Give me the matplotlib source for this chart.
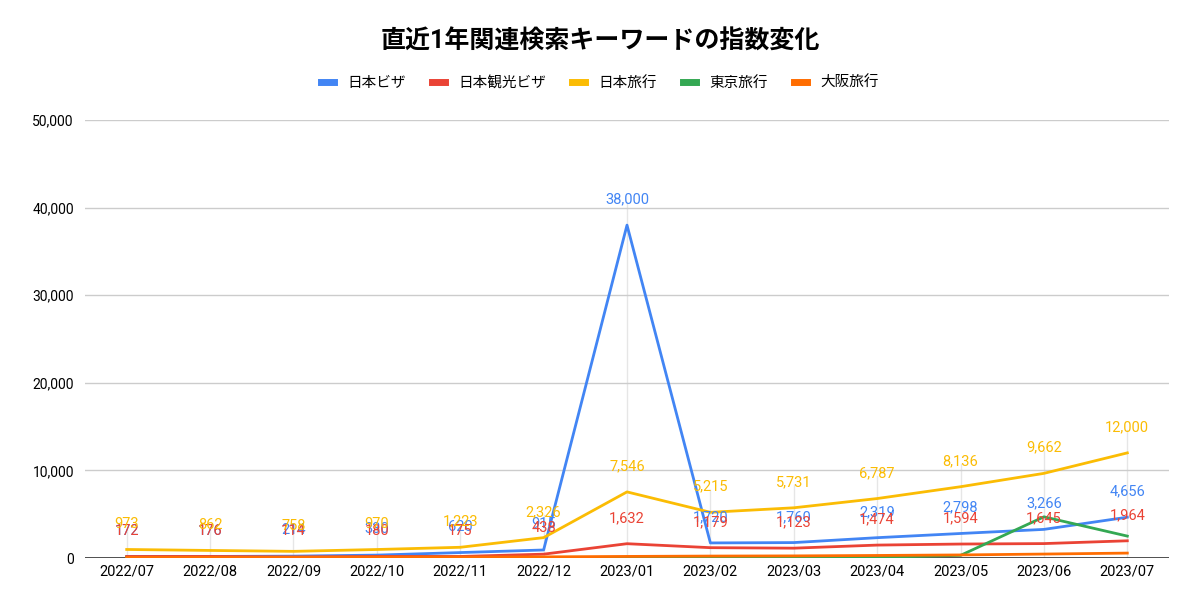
import numpy as np
import matplotlib.pyplot as plt

plt.rcParams['font.family'] = ['Roboto', 'Noto Sans CJK JP', 'DejaVu Sans']

months = ['2022/07', '2022/08', '2022/09', '2022/10', '2022/11', '2022/12', '2023/01',
          '2023/02', '2023/03', '2023/04', '2023/05', '2023/06', '2023/07']
visa = [172, 176, 214, 330, 620, 915, 38000, 1720, 1760, 2319, 2798, 3266, 4656]
sightseeing_visa = [172, 176, 114, 180, 175, 438, 1632, 1179, 1123, 1474, 1594, 1645, 1964]
japan_travel = [973, 862, 758, 970, 1223, 2326, 7546, 5215, 5731, 6787, 8136, 9662, 12000]
tokyo_travel = [30, 30, 30, 40, 40, 50, 60, 60, 70, 80, 300, 4700, 2500]
osaka_travel = [80, 80, 90, 100, 110, 130, 180, 220, 240, 290, 350, 450, 560]

series = [
    ('日本ビザ', visa, '#4285F4', True),
    ('日本観光ビザ', sightseeing_visa, '#EA4335', True),
    ('日本旅行', japan_travel, '#FBBC04', True),
    ('東京旅行', tokyo_travel, '#34A853', False),
    ('大阪旅行', osaka_travel, '#FF6D01', False),
]

fig = plt.figure(figsize=(12, 6.13), dpi=100)
ax = fig.add_axes([85 / 1200, 1 - 558 / 613, (1169 - 85) / 1200, (558 - 120) / 613])

x = np.arange(len(months))

# faint leader lines up to the top label
for i in x:
    top = max(japan_travel[i], visa[i] if i == 6 else 0)
    ax.plot([i, i], [0, top + 2600], color='#e6e6e6', lw=1, zorder=1)

for name, vals, col, labelled in series:
    ax.plot(x, vals, color=col, lw=2, label=name, zorder=3)

# data labels (blue, red, then yellow on top)
for name, vals, col, labelled in series:
    if not labelled:
        continue
    for i, v in zip(x, vals):
        ax.annotate(f'{v:,}', (i, v), xytext=(0, 18.5), textcoords='offset points',
                    ha='center', va='center', color=col, fontsize=10.5, zorder=5)

ax.set_xlim(-0.5, 12.5)
ax.set_ylim(0, 50000)
ax.set_yticks(np.arange(0, 50001, 10000))
ax.set_yticklabels([f'{t:,}' for t in range(0, 50001, 10000)], fontsize=10)
ax.set_xticks(x)
ax.set_xticklabels(months, fontsize=10.5)
ax.grid(axis='y', color='#cccccc', lw=1, zorder=0)
ax.axhline(0, color='#333333', lw=1.2, zorder=2)
for s in ax.spines.values():
    s.set_visible(False)
ax.tick_params(length=0, pad=5)
ax.tick_params(axis='y', pad=8)

fig.text(0.5, 1 - 42 / 613, '直近1年関連検索キーワードの指数変化', ha='center', va='center',
         fontsize=18, fontweight='bold')
leg = fig.legend(loc='center', bbox_to_anchor=(0.5, 1 - 83 / 613), ncol=5, frameon=False,
                 fontsize=10.5, handlelength=0.9, handletextpad=0.9, columnspacing=1.8)
for h in leg.get_lines():
    h.set_linewidth(5)

fig.savefig('out.png', dpi=100)
